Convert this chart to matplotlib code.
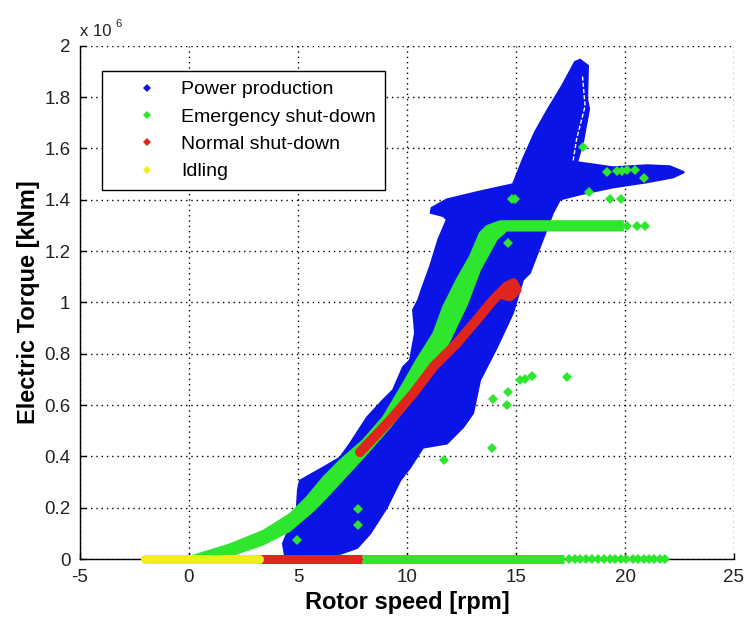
import matplotlib
matplotlib.use("Agg")
import matplotlib.pyplot as plt
from matplotlib.lines import Line2D

plt.rcParams['font.family'] = ['Liberation Sans', 'DejaVu Sans']
plt.rcParams['axes.unicode_minus'] = False

BLUE = '#0a14e6'
GREEN = '#2ee62e'
RED = '#e0261c'
YELLOW = '#f2ee1a'

# Power production cloud: outline (rpm, torque in 1e6 kNm)
blue_x = [17.94, 18.30, 18.26, 18.35, 18.07, 17.80,
          19.45, 21.01, 22.06, 22.71, 22.20, 21.01, 19.45, 17.94, 17.02,
          16.70, 16.10, 15.64, 15.32, 14.86, 14.13, 13.35, 13.03, 12.57, 11.83,
          10.73, 10.14, 9.68, 9.07, 8.30, 7.71, 6.93, 4.40,
          4.31, 4.60, 4.94, 5.00, 5.09, 5.60, 6.15, 6.93, 7.39, 8.17, 8.90, 9.36,
          9.82, 10.14, 10.37, 10.28, 10.52, 10.67, 11.06, 11.44, 11.83, 11.67,
          11.09, 11.13, 11.83, 13.35, 14.86, 15.32, 15.87, 16.47, 17.11, 17.71]
blue_y = [1.945, 1.922, 1.793, 1.753, 1.624, 1.546,
          1.526, 1.534, 1.530, 1.507, 1.487, 1.468, 1.448, 1.421, 1.401,
          1.350, 1.217, 1.115, 1.088, 0.959, 0.826, 0.697, 0.568, 0.513, 0.450,
          0.434, 0.356, 0.305, 0.200, 0.098, 0.043, 0.020, 0.015,
          0.060, 0.120, 0.188, 0.270, 0.305, 0.330, 0.356, 0.395, 0.450, 0.552, 0.619, 0.658,
          0.748, 0.775, 0.881, 0.971, 1.010, 1.049, 1.140, 1.245, 1.323, 1.336,
          1.349, 1.368, 1.401, 1.432, 1.460, 1.558, 1.663, 1.753, 1.843, 1.937]
# white streak inside the upper arm of the cloud
blue_gap_x = [18.05, 18.17, 17.78, 17.61]
blue_gap_y = [1.880, 1.765, 1.636, 1.546]

# Emergency shut-down: dense band, loose points and the zero line
green_band_x = [0.0, 1.88, 3.41, 4.63, 5.40, 6.16, 6.93, 7.98, 8.91, 9.83, 10.44,
                11.21, 11.67, 12.28, 12.89, 13.35, 13.66, 14.27, 19.90,
                19.90, 14.57, 14.11, 13.35, 12.74, 11.97, 11.36, 10.44, 9.22,
                8.00, 6.16, 5.70, 4.63, 3.41, 1.88, 0.0]
green_band_y = [0.008, 0.057, 0.110, 0.175, 0.240, 0.318, 0.384, 0.462, 0.553, 0.684, 0.775,
                0.879, 0.984, 1.088, 1.179, 1.271, 1.297, 1.316, 1.316,
                1.280, 1.280, 1.245, 1.127, 0.990, 0.853, 0.749, 0.645, 0.514,
                0.396, 0.227, 0.188, 0.110, 0.057, 0.012, 0.0]
green_pts_x = [18.06, 19.16, 19.62, 19.85, 20.07, 20.46, 20.87, 18.36, 19.31, 19.80,
               14.80, 14.95, 14.65, 15.18, 15.41, 15.72, 17.35, 14.65, 13.96, 14.57,
               13.88, 11.70, 7.77, 7.77, 4.94, 20.07, 20.53, 20.92]
green_pts_y = [1.606, 1.506, 1.512, 1.512, 1.516, 1.516, 1.486, 1.430, 1.404, 1.404,
               1.401, 1.401, 1.232, 0.699, 0.703, 0.712, 0.709, 0.651, 0.622, 0.599,
               0.433, 0.386, 0.195, 0.133, 0.073, 1.298, 1.298, 1.298]
green_zero_span = [7.95, 17.2]
green_zero_x = [17.45, 17.7, 17.95, 18.2, 18.5, 18.75, 19.05, 19.3, 19.55, 19.8,
                20.05, 20.35, 20.6, 20.85, 21.1, 21.35, 21.6, 21.85]

# Normal shut-down: curve with hook at the top, and zero line
red_x = [7.84, 9.22, 10.29, 11.21, 12.28, 13.20, 13.96, 14.57, 14.88, 15.03, 14.72, 14.42]
red_y = [0.416, 0.540, 0.645, 0.749, 0.840, 0.932, 1.010, 1.062, 1.075, 1.049, 1.023, 1.029]
red_zero_span = [3.2, 7.95]

# Idling
yellow_zero_span = [-2.0, 3.2]

labels = ['Power production', 'Emergency shut-down', 'Normal shut-down', 'Idling']
xticks = [-5, 0, 5, 10, 15, 20, 25]
yticks = [0, 0.2, 0.4, 0.6, 0.8, 1.0, 1.2, 1.4, 1.6, 1.8, 2.0]

W, H = 746, 618
fig = plt.figure(figsize=(W / 100, H / 100), dpi=100)
ax = fig.add_axes([80 / W, 1 - 559 / H, 654 / W, (559 - 45.7) / H])

ax.fill(blue_x, blue_y, color=BLUE, ec=BLUE, lw=1.5, zorder=2)
ax.plot(blue_gap_x, blue_gap_y, color='white', lw=1.0, ls=(0, (3, 1.5)), zorder=2.1)
ax.fill(green_band_x, green_band_y, color=GREEN, ec=GREEN, lw=1.5, zorder=3)
ax.plot(green_pts_x, green_pts_y, 'D', color=GREEN, ms=5, mew=0, zorder=3)
ax.plot(red_x, red_y, color=RED, lw=7, solid_capstyle='round', solid_joinstyle='round', zorder=4)

ax.plot(green_zero_span, [0, 0], color=GREEN, lw=6.5, solid_capstyle='butt', clip_on=False, zorder=5)
ax.plot(green_zero_x, [0] * len(green_zero_x), 'D', color=GREEN, ms=5.5, mew=0, clip_on=False, zorder=5)
ax.plot(red_zero_span, [0, 0], color=RED, lw=6.5, solid_capstyle='butt', clip_on=False, zorder=6)
ax.plot(yellow_zero_span, [0, 0], color=YELLOW, lw=6.5, solid_capstyle='round', clip_on=False, zorder=7)

ax.set_xlim(-5, 25)
ax.set_ylim(0, 2)
ax.set_xticks(xticks)
ax.set_xticklabels([str(v) for v in xticks])
ax.set_yticks(yticks)
ax.set_yticklabels([f'{v:g}' for v in yticks])
ax.tick_params(direction='in', length=4, width=1, top=False, right=False,
               labelsize=13.5, labelcolor='#222222', pad=7)
for s in ['top', 'right']:
    ax.spines[s].set_visible(False)
for s in ['left', 'bottom']:
    ax.spines[s].set_linewidth(1.0)

ax.grid(True, color='k', linestyle=(0, (1, 2.8)), lw=1.0)
ax.set_axisbelow(True)

ax.set_xlabel('Rotor speed [rpm]', fontsize=17, fontweight='bold', labelpad=4)
ax.set_ylabel('Electric Torque [kNm]', fontsize=17, fontweight='bold', labelpad=3)

fig.text(80 / W, 1 - 36 / H, 'x 10', fontsize=12, color='#222222', va='baseline')
fig.text(115 / W, 1 - 27 / H, '6', fontsize=8, color='#222222', va='baseline')

handles = [Line2D([], [], ls='none', marker='D', ms=4, mew=0, color=c)
           for c in [BLUE, GREEN, RED, YELLOW]]
leg = ax.legend(handles, labels, loc='upper left',
                bbox_to_anchor=(102 / W, 1 - 71 / H), bbox_transform=fig.transFigure,
                fontsize=14, frameon=True, fancybox=False, edgecolor='k',
                borderpad=0.5, handlelength=3.63, handletextpad=-0.07,
                labelspacing=0.5, borderaxespad=0)
leg.get_frame().set_linewidth(1.0)
leg.get_frame().set_alpha(1)

fig.savefig('out.png', dpi=100)
